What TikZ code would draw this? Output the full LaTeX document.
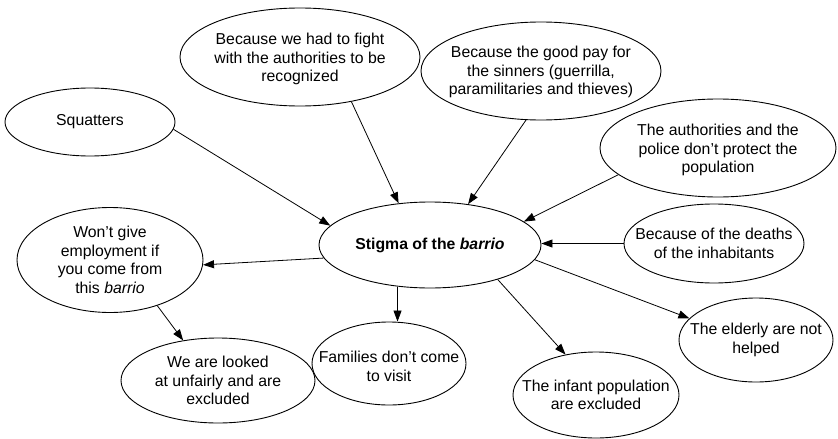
\documentclass[tikz,border=0pt]{standalone}
\usepackage{fontspec}
\setmainfont{Liberation Sans}
\usetikzlibrary{shapes.geometric,arrows.meta}
\begin{document}
\begin{tikzpicture}[x=1pt,y=-1pt,
  bubble/.style={ellipse,draw,line width=0.9pt,inner sep=0pt},
  label text/.style={align=center,inner sep=0pt,font=\fontsize{15.8}{18.6}\selectfont},
  link/.style={line width=0.8pt,-{Triangle[length=11pt,width=8pt]}}]
\useasboundingbox (0,0) rectangle (838,439);

% outline ellipses
\node[bubble,minimum width=170pt,minimum height=68pt] (sq) at (90,122) {};
\node[bubble,minimum width=240pt,minimum height=98pt] (fight) at (300,57) {};
\node[bubble,minimum width=240pt,minimum height=98pt] (pay) at (541,71) {};
\node[bubble,minimum width=236pt,minimum height=98pt] (police) at (718,148) {};
\node[bubble,minimum width=222pt,minimum height=86pt] (stigma) at (430,245) {};
\node[bubble,minimum width=180pt,minimum height=79pt] (deaths) at (714,243.5) {};
\node[bubble,minimum width=186pt,minimum height=105pt] (wont) at (110,260) {};
\node[bubble,minimum width=194pt,minimum height=85pt] (looked) at (218,380.5) {};
\node[bubble,minimum width=154pt,minimum height=83pt] (fam) at (389,363.5) {};
\node[bubble,minimum width=166pt,minimum height=86pt] (infant) at (596,395) {};
\node[bubble,minimum width=154pt,minimum height=84pt] (elderly) at (756,340) {};

% texts
\node[label text] (sq-t) at (sq) {Squatters};
\node[label text] (fight-t) at ([yshift=-2pt]fight.center) {Because we had to fight\\with the authorities to be\\recognized};
\node[label text] (pay-t) at ([yshift=-1pt]pay.center) {Because the good pay for\\the sinners (guerrilla,\\paramilitaries and thieves)};
\node[label text] (police-t) at ([yshift=-2pt]police.center) {The authorities and the\\police don’t protect the\\population};
\node[label text] (stigma-t) at (stigma) {\textbf{Stigma of the \textit{barrio}}};
\node[label text] (deaths-t) at (deaths) {Because of the deaths\\of the inhabitants};
\node[label text] (wont-t) at (wont) {Won’t give\\employment if\\you come from\\this \textit{barrio}};
\node[label text] (looked-t) at (looked) {We are looked\\at unfairly and are\\excluded};
\node[label text] (fam-t) at ([yshift=-3pt]fam.center) {Families don’t come\\to visit};
\node[label text] (infant-t) at (infant) {The infant population\\are excluded};
\node[label text] (elderly-t) at (elderly) {The elderly are not\\helped};

% connectors
\draw[link] (sq.-5) -- (stigma.169);
\draw[link] (fight.-41) -- (stigma.127);
\draw[link] (pay.-107) -- (stigma.47);
\draw[link] (police.195) -- (stigma.14);
\draw[link] (deaths.west) -- (deaths.west -| stigma.east);
\draw[link] (stigma.187) -- (wont.-3);
\draw[link] (wont.-44) -- (looked.131);
\draw[link] (stigma.-128) -- (fam.north -| stigma.-128);
\draw[link] (stigma.-27) -- (infant.127);
\draw[link] (stigma.-8) -- (elderly.162);
\end{tikzpicture}
\end{document}
